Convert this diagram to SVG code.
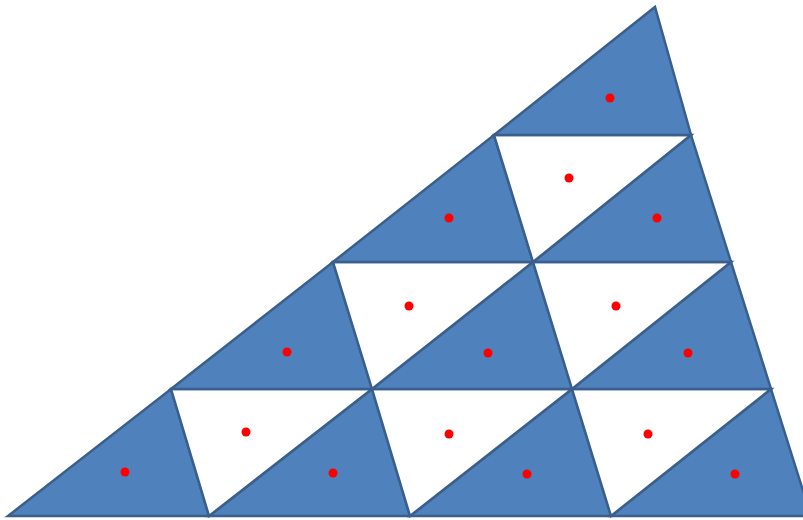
<svg xmlns="http://www.w3.org/2000/svg" width="803" height="520" viewBox="0 0 803 520">
<style>
.b{fill:#4F81BD;stroke:#3A5F8C;stroke-width:2.5;stroke-linejoin:miter}
.w{fill:#FFFFFF;stroke:#3A5F8C;stroke-width:2.5}
.d{fill:#FF0000}
</style>
<rect width="803" height="520" fill="#FFFFFF"/>
<!-- row 0 (bottom) -->
<g id="t00"><polygon class="b" points="8,516 209,516 171,389"/><circle class="d" cx="125" cy="472" r="4.5"/></g>
<g id="t01"><polygon class="b" points="209,516 410,516 372,389"/><circle class="d" cx="333" cy="473" r="4.5"/></g>
<g id="t02"><polygon class="b" points="410,516 611,516 572,389"/><circle class="d" cx="527" cy="474" r="4.5"/></g>
<g id="t03"><polygon class="b" points="611,516 811,516 771,389"/><circle class="d" cx="735" cy="474" r="4.5"/></g>
<g id="w00"><polygon class="w" points="171,389 372,389 209,516"/><circle class="d" cx="246" cy="432" r="4.5"/></g>
<g id="w01"><polygon class="w" points="372,389 572,389 410,516"/><circle class="d" cx="449" cy="434" r="4.5"/></g>
<g id="w02"><polygon class="w" points="572,389 771,389 611,516"/><circle class="d" cx="648" cy="434" r="4.5"/></g>
<!-- row 1 -->
<g id="t10"><polygon class="b" points="171,389 372,389 333,262"/><circle class="d" cx="287" cy="352" r="4.5"/></g>
<g id="t11"><polygon class="b" points="372,389 572,389 533,262"/><circle class="d" cx="488" cy="353" r="4.5"/></g>
<g id="t12"><polygon class="b" points="572,389 771,389 731,262"/><circle class="d" cx="688" cy="353" r="4.5"/></g>
<g id="w10"><polygon class="w" points="333,262 533,262 372,389"/><circle class="d" cx="409" cy="306" r="4.5"/></g>
<g id="w11"><polygon class="w" points="533,262 731,262 572,389"/><circle class="d" cx="616" cy="306" r="4.5"/></g>
<!-- row 2 -->
<g id="t20"><polygon class="b" points="333,262 533,262 494,135"/><circle class="d" cx="449" cy="218" r="4.5"/></g>
<g id="t21"><polygon class="b" points="533,262 731,262 691,135"/><circle class="d" cx="657" cy="218" r="4.5"/></g>
<g id="w20"><polygon class="w" points="494,135 691,135 533,262"/><circle class="d" cx="569" cy="178" r="4.5"/></g>
<!-- row 3 (top) -->
<g id="t30"><polygon class="b" points="494,135 691,135 655,7"/><circle class="d" cx="610" cy="98" r="4.5"/></g>
</svg>
